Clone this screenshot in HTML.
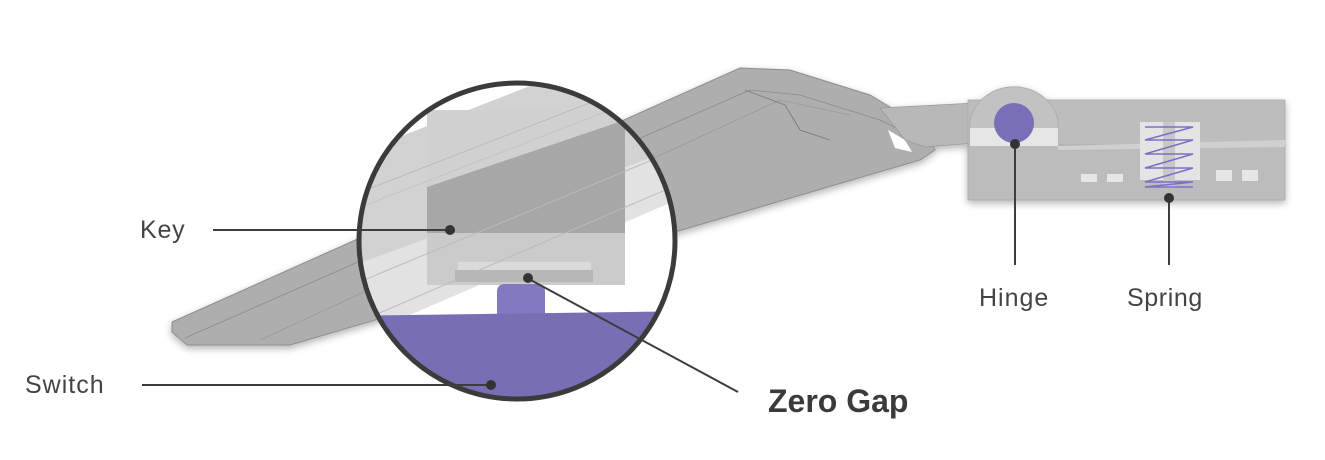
<!DOCTYPE html>
<html><head><meta charset="utf-8"><style>
html,body{margin:0;padding:0;background:#fff;}
svg{display:block;}
text{font-family:"Liberation Sans",Arial,sans-serif;fill:#444;}
</style></head><body>
<svg width="1325" height="460" viewBox="0 0 1325 460" xmlns="http://www.w3.org/2000/svg">
<defs>
<clipPath id="mag"><circle cx="517" cy="241" r="158"/></clipPath>
<filter id="sh" x="-10%" y="-20%" width="120%" height="140%"><feGaussianBlur in="SourceAlpha" stdDeviation="4"/><feOffset dy="3"/><feComponentTransfer><feFuncA type="linear" slope="0.3"/></feComponentTransfer><feMerge><feMergeNode/><feMergeNode in="SourceGraphic"/></feMerge></filter>
</defs>
<g filter="url(#sh)">
<polygon points="172,322 740,68 790,70 870,95 925,128 935,150 920,160 290,345 187,345 172,332" fill="#aeaeae" stroke="#8e8e8e" stroke-width="1"/>
<polyline points="185,338 750,90 800,95 880,120 920,140" fill="none" stroke="#8a8a8a" stroke-width="0.8"/>
<polyline points="260,340 780,100 850,115" fill="none" stroke="#999" stroke-width="0.8"/>
<polyline points="745,90 785,105 800,130 830,140" fill="none" stroke="#777" stroke-width="0.8"/>
<polygon points="888,130 905,140 912,152 895,148" fill="#fff"/>
<polygon points="880,108 975,103 975,143 925,147 905,140" fill="#b8b8b8" stroke="#9a9a9a" stroke-width="0.8"/>
<rect x="968" y="100" width="317" height="48" fill="#bdbdbd" stroke="#aaa" stroke-width="0.8"/>
<path d="M970,120 A45,42 0 0 1 1058,120 L1058,148 L970,148 Z" fill="#c2c2c2" stroke="#aaa" stroke-width="0.8"/>
<rect x="968" y="145" width="317" height="55" fill="#bcbcbc" stroke="#aaa" stroke-width="0.8"/>
<polygon points="1058,146 1285,140 1285,147 1058,150" fill="#d0d0d0"/>
<rect x="970" y="128" width="88" height="18" fill="#e6e6e6"/>
<circle cx="1014" cy="123" r="20" fill="#776fb8"/>
<rect x="1140" y="122" width="60" height="58" fill="#e4e4e4"/>
<rect x="1163" y="122" width="12" height="66" fill="#c8c8c8"/>
<rect x="1081" y="174" width="16" height="8" fill="#e6e6e6"/>
<rect x="1107" y="174" width="16" height="8" fill="#e6e6e6"/>
<rect x="1216" y="170" width="16" height="11" fill="#e6e6e6"/>
<rect x="1242" y="170" width="16" height="11" fill="#e6e6e6"/>
<polyline points="1145,127 1193,127 1145,140 1193,140 1145,154 1193,154 1145,168 1193,168 1145,182 1193,182 1145,187 1193,187" fill="none" stroke="#7b70c4" stroke-width="1.6"/>
</g>
<circle cx="517" cy="241" r="158" fill="#fff"/>
<g clip-path="url(#mag)">
<polygon points="340,160 700,20 700,190 340,345" fill="#e2e2e2"/>
<polygon points="340,160 700,20 700,140 340,270" fill="#d2d2d2"/>
<rect x="427" y="110" width="198" height="123" fill="#d0d0d0"/>
<polygon points="427,187 625,120 625,233 427,233" fill="#a7a7a7"/>
<rect x="427" y="233" width="198" height="52" fill="#cbcbcb"/>
<rect x="458" y="262" width="133" height="9" fill="#dadada"/>
<rect x="455" y="270" width="138" height="12" fill="#b7b7b7"/>
<line x1="340" y1="200" x2="700" y2="60" stroke="#bbb" stroke-width="1"/>
<line x1="340" y1="215" x2="700" y2="75" stroke="#c4c4c4" stroke-width="1"/>
<line x1="340" y1="290" x2="700" y2="140" stroke="#bbb" stroke-width="1"/>
<line x1="340" y1="330" x2="700" y2="175" stroke="#bbb" stroke-width="1"/>
<path d="M497,315 L497,292 Q497,284 505,284 L537,284 Q545,284 545,292 L545,315 Z" fill="#8279c0"/>
<polygon points="340,316 700,311 700,420 340,420" fill="#776fb4"/>
</g>
<circle cx="517" cy="241" r="158" fill="none" stroke="#3b3b3b" stroke-width="5"/>
<g stroke="#3d3d3d" stroke-width="2" fill="none">
<line x1="213" y1="230" x2="450" y2="230"/>
<line x1="142" y1="385" x2="491" y2="385"/>
<line x1="527" y1="278" x2="738" y2="392"/>
<line x1="1015" y1="144" x2="1015" y2="265"/>
<line x1="1169" y1="198" x2="1169" y2="265"/>
</g>
<g fill="#333">
<circle cx="450" cy="230" r="5"/>
<circle cx="491" cy="385" r="5"/>
<circle cx="528" cy="278" r="5"/>
<circle cx="1015" cy="144" r="5"/>
<circle cx="1169" cy="198" r="5"/>
</g>
<text x="140" y="238" font-size="25" letter-spacing="0.8">Key</text>
<text x="25" y="393" font-size="25" letter-spacing="1">Switch</text>
<text x="768" y="412" font-size="32" font-weight="bold" style="fill:#3a3a3a">Zero Gap</text>
<text x="979" y="306" font-size="25" letter-spacing="1">Hinge</text>
<text x="1127" y="306" font-size="25" letter-spacing="0.6">Spring</text>
</svg>
</body></html>
